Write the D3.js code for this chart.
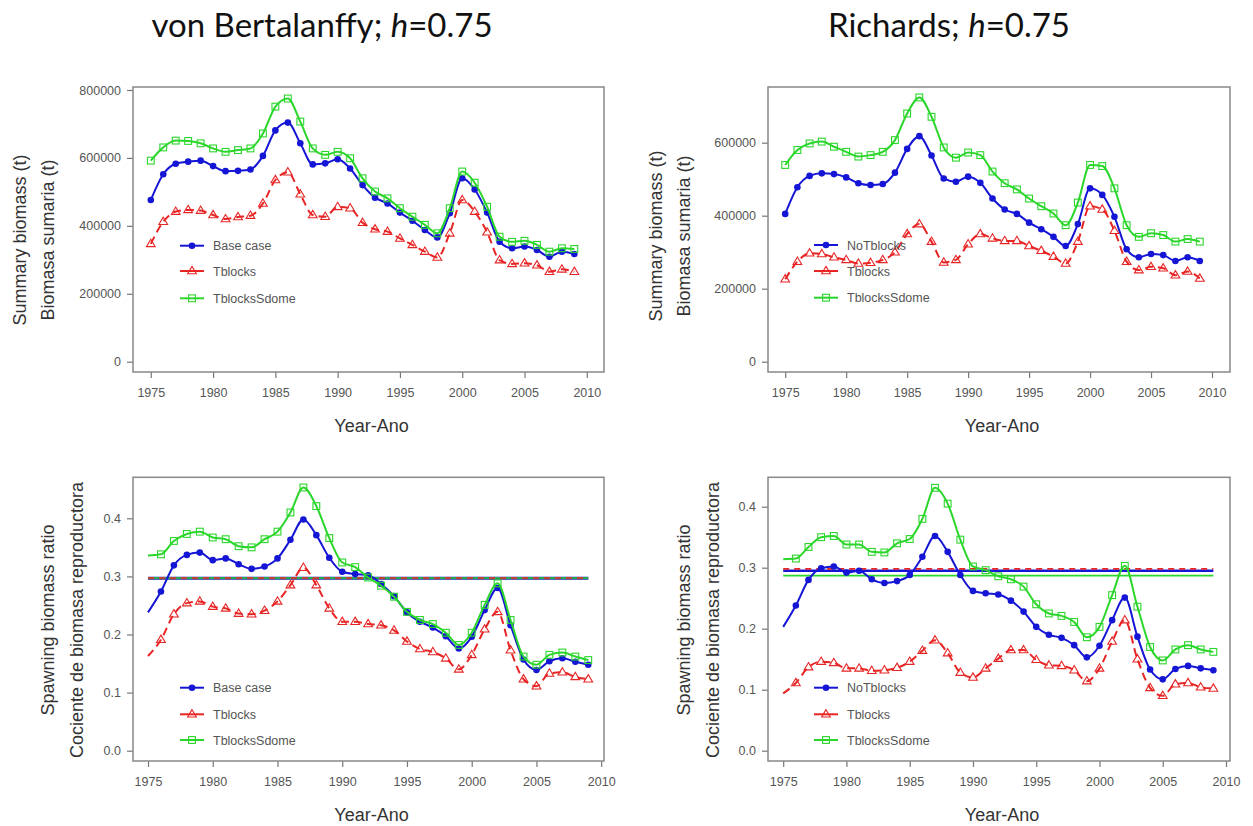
<!DOCTYPE html>
<html>
<head>
<meta charset="utf-8">
<script src="https://cdn.jsdelivr.net/npm/d3@7"></script>
<style>
  html, body { margin: 0; padding: 0; background: #fff; }
  svg { display: block; }
  text { font-family: "Liberation Sans", Arial, sans-serif; }
</style>
</head>
<body>
<svg id="chart" width="1253" height="826"></svg>
<script>
// Stock assessment comparisons: summary biomass and spawning biomass ratio,
// von Bertalanffy growth (left) vs Richards growth (right), steepness h = 0.75.

const years = [1975,1976,1977,1978,1979,1980,1981,1982,1983,1984,1985,1986,1987,1988,1989,1990,
  1991,1992,1993,1994,1995,1996,1997,1998,1999,2000,2001,2002,2003,2004,2005,2006,2007,2008,2009];

const xTickYears = [1975,1980,1985,1990,1995,2000,2005,2010];
const biomassTicksVB = [0,200000,400000,600000,800000];
const biomassTicksRich = [0,200000,400000,600000];
const ratioTicks = [0.0,0.1,0.2,0.3,0.4];

// von Bertalanffy: summary biomass (t)
const vbBioBase = [476000,552000,583000,589000,592000,576000,561000,562000,566000,606000,681000,704000,643000,581000,584000,596000,
  569000,520000,483000,466000,439000,415000,388000,366000,437000,540000,507000,439000,353000,334000,339000,329000,309000,324000,317000];
const vbBioTblocks = [347000,412000,442000,447000,445000,432000,420000,426000,430000,466000,535000,558000,493000,432000,427000,456000,
  452000,409000,390000,383000,363000,344000,324000,307000,378000,476000,442000,381000,299000,288000,290000,284000,265000,272000,265000];
const vbBioSdome = [592000,631000,651000,650000,643000,628000,618000,623000,628000,672000,751000,775000,707000,628000,609000,618000,
  599000,540000,501000,481000,452000,427000,403000,378000,452000,560000,527000,456000,368000,353000,356000,344000,324000,334000,332000];

// Richards: summary biomass (t)
const rcBioNoTblocks = [405000,478000,509000,516000,514000,505000,489000,484000,487000,518000,583000,618000,565000,502000,493000,507000,
  490000,447000,417000,405000,381000,363000,342000,317000,377000,475000,457000,397000,308000,286000,295000,292000,276000,286000,276000];
const rcBioTblocks = [226000,274000,297000,295000,286000,279000,269000,271000,279000,300000,350000,377000,329000,272000,279000,322000,
  350000,338000,331000,331000,317000,304000,288000,269000,329000,426000,417000,359000,274000,251000,260000,256000,237000,247000,228000];
const rcBioSdome = [539000,580000,598000,603000,589000,575000,562000,566000,575000,607000,680000,724000,671000,587000,559000,573000,
  566000,521000,489000,472000,447000,426000,406000,374000,436000,539000,536000,475000,374000,342000,352000,347000,329000,336000,329000];

// von Bertalanffy: spawning biomass ratio
const vbRatioBase = [0.238,0.274,0.319,0.337,0.341,0.328,0.331,0.321,0.313,0.317,0.331,0.363,0.398,0.371,0.332,0.308,
  0.304,0.302,0.287,0.266,0.238,0.222,0.212,0.197,0.176,0.196,0.242,0.280,0.216,0.157,0.139,0.154,0.159,0.153,0.148];
const vbRatioTblocks = [0.163,0.191,0.235,0.254,0.257,0.248,0.245,0.236,0.235,0.241,0.257,0.285,0.315,0.285,0.245,0.222,
  0.222,0.218,0.216,0.207,0.188,0.175,0.170,0.159,0.140,0.165,0.209,0.239,0.173,0.123,0.111,0.133,0.135,0.127,0.123];
const vbRatioSdome = [0.336,0.338,0.361,0.373,0.377,0.367,0.364,0.352,0.350,0.364,0.377,0.410,0.453,0.421,0.366,0.324,
  0.316,0.298,0.284,0.265,0.239,0.225,0.218,0.203,0.182,0.203,0.251,0.288,0.225,0.162,0.148,0.165,0.169,0.162,0.156];
const vbRatioTargets = [0.297,0.297,0.297]; // Base case, Tblocks, TblocksSdome

// Richards: spawning biomass ratio
const rcRatioNoTblocks = [0.203,0.238,0.280,0.299,0.302,0.292,0.295,0.281,0.275,0.278,0.288,0.318,0.352,0.326,0.288,0.262,
  0.258,0.256,0.246,0.228,0.203,0.190,0.185,0.173,0.153,0.172,0.214,0.251,0.187,0.133,0.117,0.134,0.139,0.135,0.132];
const rcRatioTblocks = [0.094,0.111,0.137,0.146,0.144,0.135,0.135,0.131,0.132,0.136,0.146,0.164,0.181,0.160,0.128,0.120,
  0.135,0.151,0.165,0.165,0.149,0.140,0.139,0.132,0.114,0.135,0.179,0.214,0.150,0.103,0.090,0.109,0.111,0.104,0.102];
const rcRatioSdome = [0.314,0.315,0.334,0.350,0.352,0.338,0.338,0.326,0.325,0.340,0.347,0.380,0.431,0.405,0.346,0.302,
  0.296,0.286,0.281,0.269,0.240,0.225,0.221,0.211,0.186,0.203,0.255,0.303,0.236,0.170,0.148,0.166,0.173,0.166,0.162];
const rcRatioTargets = [0.295,0.298,0.287]; // NoTblocks, Tblocks, TblocksSdome

const vbNames = ["Base case","Tblocks","TblocksSdome"];
const rcNames = ["NoTblocks","Tblocks","TblocksSdome"];

// shared series styling (blue solid dots, red dashed triangles, green solid squares)
const styles = [
  { color: "#1515d6", dash: null, shape: "circle" },
  { color: "#e82525", dash: "8,5", shape: "triangle" },
  { color: "#2bd62b", dash: null, shape: "square" }
];

const svg = d3.select("#chart");

// titles
const titles = [
  { x: 322, parts: ["von Bertalanffy; ", "h", "=0.75"] },
  { x: 949, parts: ["Richards; ", "h", "=0.75"] }
];
titles.forEach(t => {
  const txt = svg.append("text").attr("x", t.x).attr("y", 37)
    .attr("text-anchor", "middle")
    .style("font-family", "Lato, 'Open Sans', sans-serif")
    .style("font-size", "33px").style("fill", "#111");
  txt.append("tspan").text(t.parts[0]);
  txt.append("tspan").style("font-style", "italic").text(t.parts[1]);
  txt.append("tspan").text(t.parts[2]);
});

const panels = [
  { box: [133, 87, 604, 372], xr: [150.8, 586.8], yr: [361.7, 90], ymax: 800000, yTicks: biomassTicksVB, fmt: d3.format("d"),
    series: [vbBioBase, vbBioTblocks, vbBioSdome], names: vbNames, skipFirst: false, targets: null,
    ylab: ["Summary biomass (t)", "Biomasa sumaria (t)"], ylabX: [20, 48], ylabY: 240,
    legend: { x: 180, ys: [245.7, 271, 298.3] } },
  { box: [768, 87, 1230, 372], xr: [785.2, 1212], yr: [361.7, 142.7], ymax: 600000, yTicks: biomassTicksRich, fmt: d3.format("d"),
    series: [rcBioNoTblocks, rcBioTblocks, rcBioSdome], names: rcNames, skipFirst: false, targets: null,
    ylab: ["Summary biomass (t)", "Biomasa sumaria (t)"], ylabX: [656, 684], ylabY: 236,
    legend: { x: 814, ys: [245, 271, 297.7] } },
  { box: [133, 477.3, 604, 761], xr: [148, 601.2], yr: [750.7, 518.3], ymax: 0.4, yTicks: ratioTicks, fmt: d3.format(".1f"),
    series: [vbRatioBase, vbRatioTblocks, vbRatioSdome], names: vbNames, skipFirst: true, targets: vbRatioTargets, mixTargets: true,
    ylab: ["Spawning biomass ratio", "Cociente de biomasa reproductora"], ylabX: [48, 77], ylabY: 620,
    legend: { x: 180, ys: [687.7, 714.3, 740] } },
  { box: [768, 477.3, 1230, 761], xr: [783.2, 1226], yr: [750.7, 506.7], ymax: 0.4, yTicks: ratioTicks, fmt: d3.format(".1f"),
    series: [rcRatioNoTblocks, rcRatioTblocks, rcRatioSdome], names: rcNames, skipFirst: true, targets: rcRatioTargets, mixTargets: false,
    ylab: ["Spawning biomass ratio", "Cociente de biomasa reproductora"], ylabX: [684, 713], ylabY: 620,
    legend: { x: 814, ys: [687.7, 714.3, 740] } }
];

function drawMarker(g, shape, color, cx, cy) {
  if (shape === "circle") {
    g.append("circle").attr("cx", cx).attr("cy", cy).attr("r", 3.3).attr("fill", color);
  } else if (shape === "triangle") {
    const s = 4.6;
    g.append("path")
      .attr("d", `M${cx},${cy - s}L${cx + s * 0.95},${cy + s * 0.6}L${cx - s * 0.95},${cy + s * 0.6}Z`)
      .attr("fill", "none").attr("stroke", color).attr("stroke-width", 1.1);
  } else {
    g.append("rect").attr("x", cx - 3.4).attr("y", cy - 3.4).attr("width", 6.8).attr("height", 6.8)
      .attr("fill", "none").attr("stroke", color).attr("stroke-width", 1.1);
  }
}

panels.forEach(p => {
  const [bx0, by0, bx1, by1] = p.box;
  const x = d3.scaleLinear().domain([1975, 2010]).range(p.xr);
  const y = d3.scaleLinear().domain([0, p.ymax]).range(p.yr);
  const g = svg.append("g");

  // axes, ticks pointing outward from the plot box
  const xAxis = g.append("g").attr("transform", `translate(0,${by1})`)
    .call(d3.axisBottom(x).tickValues(xTickYears).tickSize(6).tickPadding(10).tickFormat(d3.format("d")));
  const yAxis = g.append("g").attr("transform", `translate(${bx0},0)`)
    .call(d3.axisLeft(y).tickValues(p.yTicks).tickSize(6).tickPadding(6).tickFormat(p.fmt));
  [xAxis, yAxis].forEach(a => {
    a.select(".domain").remove();
    a.selectAll(".tick line").attr("stroke", "#777").attr("stroke-width", 1.2);
    a.selectAll(".tick text").attr("fill", "#555").style("font-size", "12.5px")
      .style("font-family", "'Liberation Sans', Arial, sans-serif");
  });

  // reference (target) lines
  if (p.targets) {
    const tx0 = x(years[0]), tx1 = x(years[years.length - 1]);
    [0, 2, 1].forEach(i => {
      const st = styles[i];
      const line = g.append("line").attr("x1", tx0).attr("x2", tx1)
        .attr("y1", y(p.targets[i])).attr("y2", y(p.targets[i]))
        .attr("stroke", st.color).attr("stroke-width", p.mixTargets ? (i === 0 ? 3 : i === 2 ? 2.2 : 2.4) : (i === 0 ? 2.6 : 1.8));
      if (st.dash) line.attr("stroke-dasharray", "6,5");
      if (p.mixTargets && i !== 0) line.attr("opacity", 0.75);
    });
  }

  // series lines and point markers
  p.series.forEach((vals, i) => {
    const st = styles[i];
    const pts = years.map((yr, k) => [x(yr), y(vals[k])]);
    const path = g.append("path").datum(pts)
      .attr("d", d3.line().curve(d3.curveMonotoneX))
      .attr("fill", "none").attr("stroke", st.color).attr("stroke-width", 2);
    if (st.dash) path.attr("stroke-dasharray", st.dash);
    pts.forEach((pt, k) => {
      if (p.skipFirst && k === 0) return;
      drawMarker(g, st.shape, st.color, pt[0], pt[1]);
    });
  });

  // plot box
  g.append("rect").attr("x", bx0).attr("y", by0).attr("width", bx1 - bx0).attr("height", by1 - by0)
    .attr("fill", "none").attr("stroke", "#888").attr("stroke-width", 1.5);

  // legend
  p.names.forEach((nm, i) => {
    const st = styles[i];
    const ly = p.legend.ys[i];
    g.append("line").attr("x1", p.legend.x).attr("x2", p.legend.x + 24)
      .attr("y1", ly).attr("y2", ly).attr("stroke", st.color).attr("stroke-width", 2);
    drawMarker(g, st.shape, st.color, p.legend.x + 12, ly);
    g.append("text").attr("x", p.legend.x + 33).attr("y", ly + 4.5)
      .style("font-size", "12.5px").attr("fill", "#555").text(nm);
  });

  // axis titles
  g.append("text").attr("x", (bx0 + bx1) / 2 + 3).attr("y", by1 + 60)
    .attr("text-anchor", "middle").style("font-size", "18px").attr("fill", "#333").text("Year-Ano");
  p.ylab.forEach((t, j) => {
    g.append("text")
      .attr("transform", `translate(${p.ylabX[j] + 6},${p.ylabY}) rotate(-90)`)
      .attr("text-anchor", "middle").style("font-size", "18px").attr("fill", "#333").text(t);
  });
});
</script>
</body>
</html>
